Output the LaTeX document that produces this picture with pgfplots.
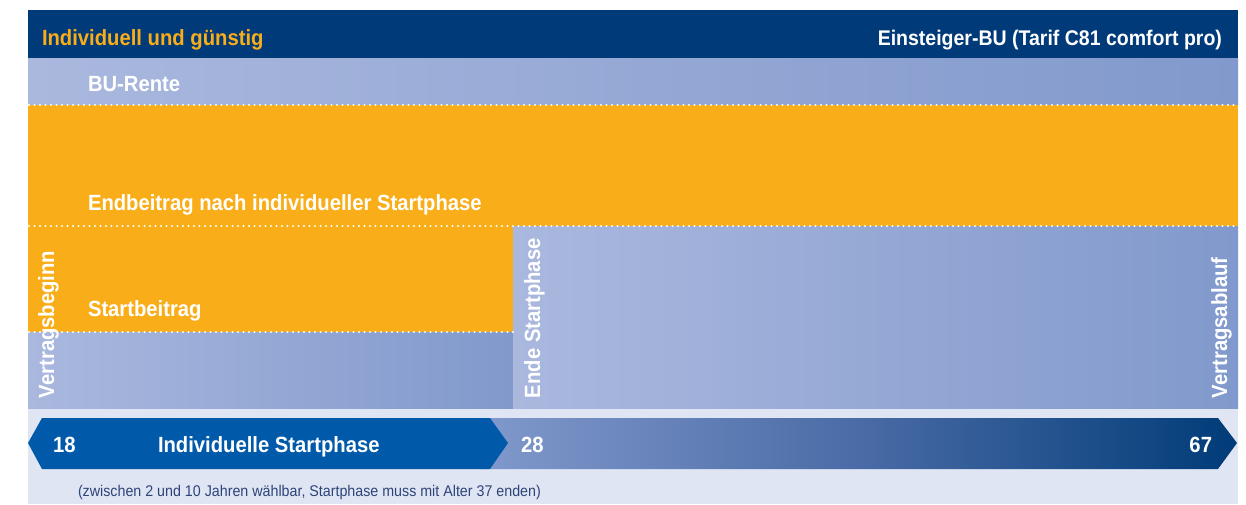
\documentclass[border=0pt]{standalone}
\usepackage{fontspec}
\setmainfont{Liberation Sans}[FakeStretch=0.92]
\usepackage{pgfplots}
\pgfplotsset{compat=1.18}
\definecolor{hdr}{HTML}{003A78}
\definecolor{ora}{HTML}{F9AE19}
\definecolor{lbA}{HTML}{AAB8DE}
\definecolor{lbB}{HTML}{8199CC}
\definecolor{bgB}{HTML}{DFE5F3}
\definecolor{arD}{HTML}{005AA9}
\definecolor{arM}{HTML}{4A6BA6}
\definecolor{arR}{HTML}{003C78}
\definecolor{note}{HTML}{2E4478}
\newcommand{\lbl}{\fontsize{22}{25}\selectfont\bfseries}
\tikzset{lab/.style={inner sep=0pt, outer sep=0pt, text=white, font=\lbl}}
\begin{document}
\begin{tikzpicture}
\begin{axis}[
    name=ax,
    x=1pt, y=1pt,
    xmin=0, xmax=1246, ymin=0, ymax=504,
    y dir=reverse,
    hide axis, clip=false, scale only axis,
]
% canvas
\addplot[draw=none, fill=white] coordinates {(0,0) (1246,0) (1246,504) (0,504)} -- cycle;
% bottom band
\addplot[draw=none, fill=bgB] coordinates {(28,408) (1238,408) (1238,504) (28,504)} -- cycle;
% header
\addplot[draw=none, fill=hdr] coordinates {(28,10) (1238,10) (1238,58) (28,58)} -- cycle;
% BU-Rente band
\addplot[draw=none, left color=lbA, right color=lbB] coordinates {(28,58) (1238,58) (1238,105) (28,105)} -- cycle;
% Endbeitrag
\addplot[draw=none, fill=ora] coordinates {(28,105) (1238,105) (1238,226) (28,226)} -- cycle;
% Startbeitrag
\addplot[draw=none, fill=ora] coordinates {(28,226) (513,226) (513,332) (28,332)} -- cycle;
% below Startbeitrag
\addplot[draw=none, left color=lbA, right color=lbB] coordinates {(28,332) (513,332) (513,408) (28,408)} -- cycle;
% after start phase
\addplot[draw=none, left color=lbA, right color=lbB] coordinates {(513,226) (1238,226) (1238,408) (513,408)} -- cycle;
% dotted separators
\addplot[white, line width=2.2pt, line cap=round, dash pattern=on 0pt off 5.5pt] coordinates {(29,105) (1238,105)};
\addplot[white, line width=2.2pt, line cap=round, dash pattern=on 0pt off 5.5pt] coordinates {(29,226) (1238,226)};
\addplot[white, line width=2.2pt, line cap=round, dash pattern=on 0pt off 5.5pt] coordinates {(29,332) (513,332)};
% timeline arrows
\addplot[draw=none, left color=lbB, right color=arR, middle color=arM] coordinates {(480,418) (1218,418) (1237,443) (1218,469) (480,469)} -- cycle;
\addplot[draw=none, fill=arD] coordinates {(28,443) (42,418) (490,418) (508,443) (490,469) (42,469)} -- cycle;

% texts
\node[lab, anchor=base west, text=ora] at (axis cs:42,45) {Individuell und günstig};
\node[lab, anchor=base east, font=\fontsize{21.2}{25}\selectfont\bfseries] at (axis cs:1222,45) {Einsteiger-BU (Tarif C81 comfort pro)};
\node[lab, anchor=base west] at (axis cs:88,91) {BU-Rente};
\node[lab, anchor=base west] at (axis cs:88,210) {Endbeitrag nach individueller Startphase};
\node[lab, anchor=base west] at (axis cs:88,316) {Startbeitrag};
\node[lab, anchor=base west, rotate=90] at (axis cs:54,398) {Vertragsbeginn};
\node[lab, anchor=base west, rotate=90] at (axis cs:540,398) {Ende Startphase};
\node[lab, anchor=base west, rotate=90] at (axis cs:1227,398) {Vertragsablauf};
\node[lab, anchor=base west] at (axis cs:53,452) {18};
\node[lab, anchor=base west] at (axis cs:158,452) {Individuelle Startphase};
\node[lab, anchor=base west] at (axis cs:521,452) {28};
\node[lab, anchor=base east] at (axis cs:1212,452) {67};
\node[lab, anchor=base west, text=note, font=\fontsize{15.5}{18}\selectfont] at (axis cs:78,496) {(zwischen 2 und 10 Jahren wählbar, Startphase muss mit Alter 37 enden)};
\end{axis}
\pgfresetboundingbox
\useasboundingbox (ax.south west) rectangle (ax.north east);
\end{tikzpicture}
\end{document}
